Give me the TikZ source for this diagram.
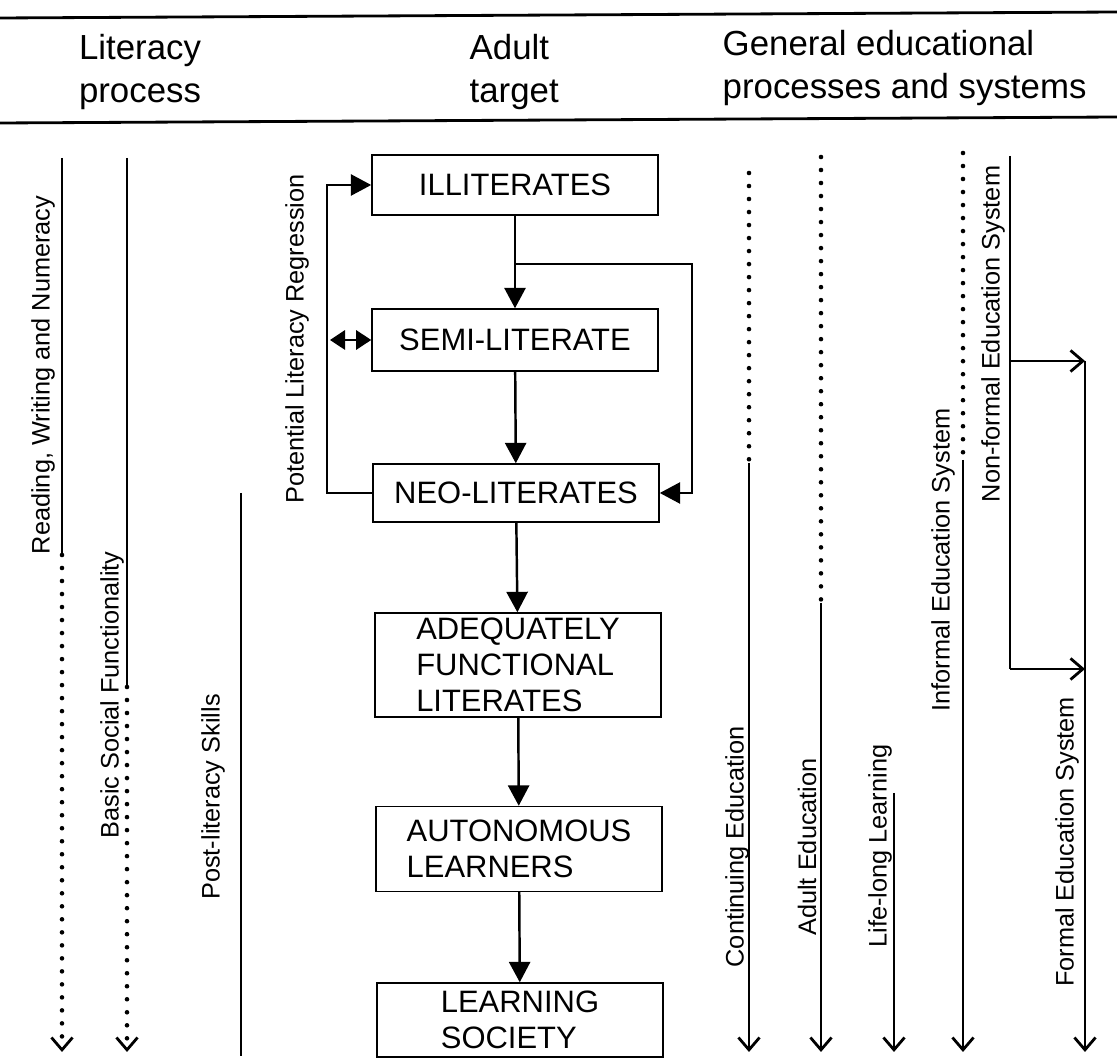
\documentclass[tikz,border=0pt]{standalone}
\usepackage{fontspec}
\setmainfont{Liberation Sans}
\usetikzlibrary{arrows.meta, positioning}

\tikzset{
  stagebox/.style={draw, line width=0.4pt, minimum width=2.86cm, inner sep=0pt, align=left, font=\fontsize{8.8}{10.2}\selectfont},
  flow/.style={line width=0.7pt, -{Triangle[length=5.8pt,width=6pt]}},
  strand/.style={line width=0.7pt},
  dots/.style={line width=1.3pt, line cap=round, dash pattern=on 0pt off 3.7pt},
  barb/.style={-{Straight Barb[length=3.5pt,width=6pt,line width=0.8pt]}},
  sidelabel/.style={rotate=90, inner sep=0pt, font=\fontsize{7.2}{8}\selectfont},
  headtext/.style={inner sep=0pt, font=\fontsize{9.9}{12}\selectfont}
}

\begin{document}
\begin{tikzpicture}[x=0.01cm, y=-0.01cm]
\useasboundingbox (0,0) rectangle (1117,1058);

% header rules and titles
\draw [line width=0.8pt] (0,18) -- (1117,12);
\draw [line width=0.8pt] (0,123) -- (1117,117);
\node [headtext, align=center] (hlit) at (140,72) {Literacy\\process};
\node [headtext, align=left, anchor=west] (hadult) at (469,72) {Adult\\target};
\node [headtext, align=left, anchor=west] (hgen) at (722,68) {General educational\\processes and systems};

% adult target
\node [stagebox, minimum height=0.6cm] (ill) at (515,185) {ILLITERATES};
\node [stagebox, minimum height=0.62cm] (semi) at (515,340) {SEMI-LITERATE};
\node [stagebox, minimum height=0.58cm] (neo) at (516,493) {NEO-LITERATES};
\node [stagebox, minimum height=1.04cm] (adeq) at (518,665) {ADEQUATELY\\FUNCTIONAL\\LITERATES};
\node [stagebox, minimum height=0.85cm] (auto) at (519,849) {AUTONOMOUS\\LEARNERS};
\node [stagebox, minimum height=0.74cm] (soc) at (520,1020) {LEARNING\\SOCIETY};

\draw [flow] (ill) -- (semi);
\draw [flow] (semi) -- (neo);
\draw [flow] (neo) -- (adeq);
\draw [flow] (adeq) -- (auto);
\draw [flow] (auto) -- (soc);

\coordinate (split) at (516,264);
\coordinate (bypass) at (692,264);
\draw [flow] (split) -- (bypass) |- (neo.east);

\coordinate (back) at (327,185);
\draw [flow] (neo.west) -| (back) -- (ill.west);
\coordinate (swing) at (330,340);
\draw [line width=0.7pt, {Triangle[length=4.3pt,width=5.5pt]}-{Triangle[length=4.3pt,width=5.5pt]}] (swing) -- (semi.west);
\node [sidelabel] (regr) at (297,339) {Potential Literacy Regression};

% literacy process
\draw [strand] (62,158) -- (62,555);
\draw [dots, barb] (62,555) -- (62,1052);
\node [sidelabel] (rwn) at (43,375) {Reading, Writing and Numeracy};

\draw [strand] (127,158) -- (127,687);
\draw [dots, barb] (127,687) -- (127,1052);
\node [sidelabel] (bsf) at (112,695) {Basic Social Functionality};

\draw [strand] (241,493) -- (241,1056);
\node [sidelabel] (pls) at (213,797) {Post-literacy Skills};

% general educational processes and systems
\draw [dots] (749,173) -- (749,463);
\draw [strand, barb] (749,463) -- (749,1052);
\node [sidelabel] (cont) at (737,847) {Continuing Education};

\draw [dots] (821,157) -- (821,603);
\draw [strand, barb] (821,603) -- (821,1052);
\node [sidelabel] (adu) at (807,847) {Adult Education};

\draw [strand, barb] (894,793) -- (894,1052);
\node [sidelabel] (life) at (880,846) {Life-long Learning};

\draw [dots] (963,153) -- (963,460);
\draw [strand, barb] (963,460) -- (963,1052);
\node [sidelabel] (inf) at (943,560) {Informal Education System};

\coordinate (nf top) at (1010,156);
\coordinate (nf bend) at (1010,669);
\coordinate (fe top) at (1085,361);
\draw [strand] (nf top) -- (nf bend);
\draw [strand, barb] (1010,361) -- (fe top);
\draw [strand, barb] (nf bend) -- (1085,669);
\node [sidelabel] (nfe) at (993,334) {Non-formal Education System};

\draw [strand, barb] (fe top) -- (1085,1052);
\node [sidelabel] (fes) at (1067,842) {Formal Education System};
\end{tikzpicture}
\end{document}
